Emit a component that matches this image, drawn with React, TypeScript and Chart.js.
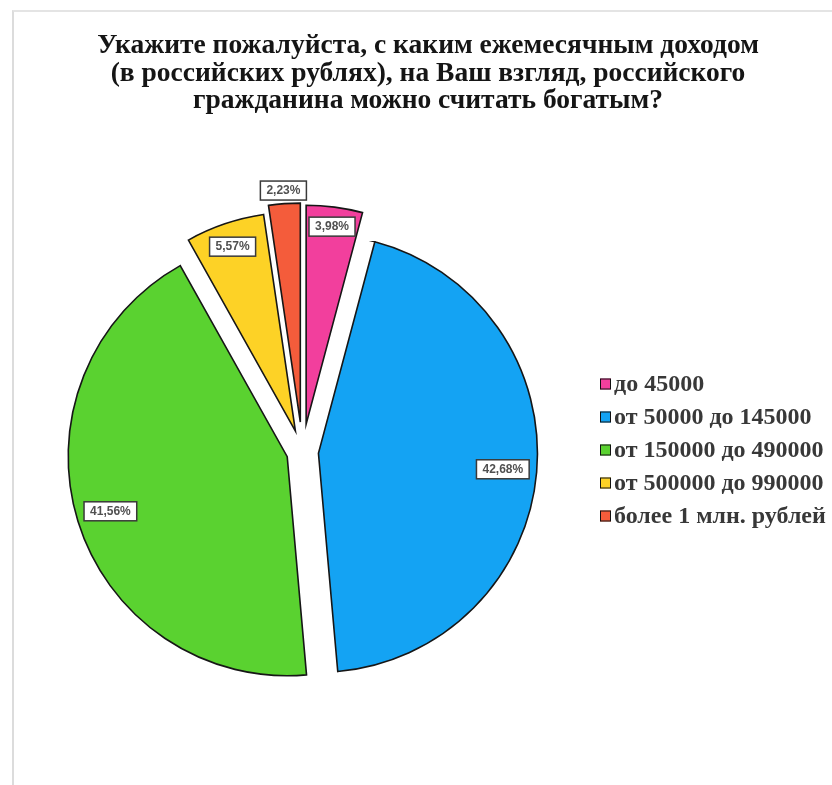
import { useEffect, useRef } from "react";
import { Chart, registerables } from "chart.js";

Chart.register(...registerables);

const titleLines = [
  "Укажите пожалуйста, с каким ежемесячным доходом",
  "(в российских рублях), на Ваш взгляд, российского",
  "гражданина можно считать богатым?",
];
const categories = [
  "до 45000",
  "от 50000 до 145000",
  "от 150000 до 490000",
  "от 500000 до 990000",
  "более 1 млн. рублей",
];
const shares = [3.98, 42.68, 41.56, 5.57, 2.23];
const shareLabels = ["3,98%", "42,68%", "41,56%", "5,57%", "2,23%"];
const sliceColors = ["#f23f9d", "#14a3f3", "#5ad230", "#fdd226", "#f45c3b"];
const explodeDistance = [28, 16, 16, 22, 30];
const labelRadiusFactor = [0.91, 0.845, 0.845, 0.89, 1.06];

const explodePlugin = {
  id: "explodeSlices",
  beforeDatasetsDraw(chart: any) {
    const area = chart.chartArea;
    const meta = chart.getDatasetMeta(0);
    const ctrl: any = meta.controller;
    const cx = (area.left + area.right) / 2 + (ctrl.offsetX || 0);
    const cy = (area.top + area.bottom) / 2 + (ctrl.offsetY || 0);
    meta.data.forEach((arc: any, i: number) => {
      const mid = (arc.startAngle + arc.endAngle) / 2;
      const d = explodeDistance[i] || 0;
      arc.x = cx + Math.cos(mid) * d;
      arc.y = cy + Math.sin(mid) * d;
    });
  },
};

const labelPlugin = {
  id: "sliceLabels",
  afterDatasetsDraw(chart: any) {
    const ctx = chart.ctx;
    const meta = chart.getDatasetMeta(0);
    ctx.save();
    ctx.font = "bold 12px 'Liberation Sans', Arial, sans-serif";
    ctx.textAlign = "center";
    ctx.textBaseline = "middle";
    meta.data.forEach((arc: any, i: number) => {
      const mid = (arc.startAngle + arc.endAngle) / 2;
      const r = arc.outerRadius * labelRadiusFactor[i];
      const x = arc.x + Math.cos(mid) * r;
      const y = arc.y + Math.sin(mid) * r;
      const text = shareLabels[i];
      const w = ctx.measureText(text).width + 12;
      const h = 19;
      ctx.fillStyle = "#ffffff";
      ctx.fillRect(x - w / 2, y - h / 2, w, h);
      ctx.lineWidth = 1.5;
      ctx.strokeStyle = "#3a3a3a";
      ctx.strokeRect(x - w / 2, y - h / 2, w, h);
      ctx.fillStyle = "#505050";
      ctx.fillText(text, x, y + 0.5);
    });
    ctx.restore();
  },
};

const titleLegendPlugin = {
  id: "titleLegend",
  afterDraw(chart: any) {
    const ctx = chart.ctx;
    ctx.save();
    ctx.fillStyle = "#151515";
    ctx.font = "bold 27.5px 'Liberation Serif', 'Times New Roman', serif";
    ctx.textAlign = "center";
    ctx.textBaseline = "middle";
    titleLines.forEach((line, i) => {
      ctx.fillText(line, 428, 46 + i * 27.5);
    });
    ctx.font = "bold 24px 'Liberation Serif', 'Times New Roman', serif";
    ctx.textAlign = "left";
    const colors = chart.data.datasets[0].backgroundColor;
    chart.data.labels.forEach((label: string, i: number) => {
      const y = 384 + i * 33;
      ctx.fillStyle = colors[i];
      ctx.fillRect(600, y - 5.5, 11, 11);
      ctx.lineWidth = 1;
      ctx.strokeStyle = "#111";
      ctx.strokeRect(600.5, y - 5, 10, 10);
      ctx.fillStyle = "#383838";
      ctx.fillText(label, 614, y + 1);
    });
    ctx.restore();
  },
};

export default function App() {
  const canvasRef = useRef<HTMLCanvasElement | null>(null);

  useEffect(() => {
    if (!canvasRef.current) return;
    const chart = new Chart(canvasRef.current, {
      type: "pie",
      data: {
        labels: categories,
        datasets: [
          {
            data: shares,
            backgroundColor: sliceColors,
            borderColor: "#161616",
            borderWidth: 1.6,
            borderJoinStyle: "miter",
          } as any,
        ],
      },
      options: {
        animation: false,
        responsive: true,
        maintainAspectRatio: false,
        events: [],
        radius: 219,
        layout: { padding: { left: 0, right: 227, top: 130, bottom: 11 } },
        plugins: {
          legend: { display: false },
          title: { display: false },
          tooltip: { enabled: false },
        },
      } as any,
      plugins: [explodePlugin, labelPlugin, titleLegendPlugin],
    });
    return () => chart.destroy();
  }, []);

  return (
    <div
      style={{
        position: "absolute",
        left: 0,
        top: 0,
        width: 832,
        height: 785,
        background: "#ffffff",
        overflow: "hidden",
      }}
    >
      <div
        style={{
          position: "absolute",
          left: 12,
          top: 10,
          right: 0,
          bottom: 0,
          borderLeft: "2px solid #dcdcdc",
          borderTop: "2px solid #e4e4e4",
        }}
      />
      <canvas ref={canvasRef} style={{ position: "absolute", left: 0, top: 0, width: 832, height: 785 }} />
    </div>
  );
}
